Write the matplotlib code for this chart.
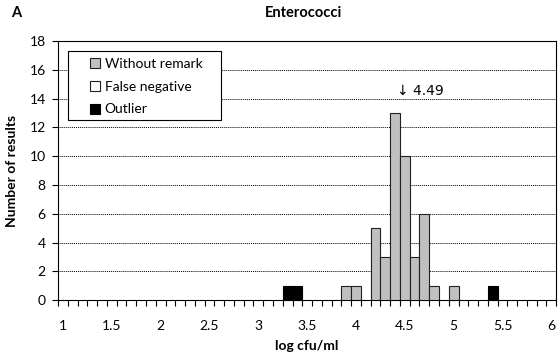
import matplotlib.pyplot as plt
from matplotlib.patches import Patch, Rectangle

plt.rcParams['font.family'] = ['Lato', 'DejaVu Sans']

# results per 0.1 log bin
gray_bins = [3.9, 4.0, 4.2, 4.3, 4.4, 4.5, 4.6, 4.7, 4.8, 5.0]
gray_counts = [1, 1, 5, 3, 13, 10, 3, 6, 1, 1]
outlier_bins = [3.3, 3.4, 5.4]
outlier_counts = [1, 1, 1]
median_value = 4.49

fig = plt.figure(figsize=(5.59, 3.56), dpi=100)
ax = fig.add_axes([0.104, 0.157, 0.891, 0.728])

ax.bar(gray_bins, gray_counts, width=0.1, color='#c0c0c0', edgecolor='#202020', linewidth=0.8, zorder=3)
ax.bar(outlier_bins, outlier_counts, width=0.1, color='black', edgecolor='black', linewidth=0.8, zorder=3)

ax.set_xlim(0.95, 6.05)
ax.set_ylim(0, 18)
ax.set_yticks(range(0, 19, 2))
ax.set_xticks([1, 1.5, 2, 2.5, 3, 3.5, 4, 4.5, 5, 5.5, 6])
ax.set_xticklabels(['1', '1.5', '2', '2.5', '3', '3.5', '4', '4.5', '5', '5.5', '6'])
ax.set_xticks([0.95 + 0.1 * i for i in range(52)], minor=True)
ax.tick_params(axis='x', which='major', length=0, labelsize=10, pad=14)
ax.tick_params(axis='x', which='minor', length=4, width=0.8, direction='out')
ax.tick_params(axis='y', length=4, width=0.8, labelsize=10, pad=5)
ax.yaxis.grid(True, linestyle=(0, (1, 1)), color='black', linewidth=0.7, zorder=0)
for sp in ax.spines.values():
    sp.set_linewidth(0.8)

ax.annotate('\u2193 4.49', xy=(median_value, 14.55), xytext=(-5, 0), textcoords='offset points',
            fontsize=10, ha='left', va='center', family=['DejaVu Sans'])

ax.set_xlabel('log cfu/ml', fontsize=10, fontweight='bold', labelpad=6)
ax.set_ylabel('Number of results', fontsize=10, fontweight='bold', labelpad=8)
fig.text(0.543, 0.963, 'Enterococci', fontsize=10.5, fontweight='bold', ha='center', va='center')
fig.text(0.029, 0.963, 'A', fontsize=10.5, fontweight='bold', ha='center', va='center')

# legend box drawn separately so it can be wider than its entries
box = Rectangle((0.02, 0.695), 0.307, 0.266, transform=ax.transAxes,
                facecolor='white', edgecolor='black', linewidth=0.8, zorder=4)
ax.add_patch(box)
handles = [Patch(facecolor='#c0c0c0', edgecolor='#202020', linewidth=0.8),
           Patch(facecolor='white', edgecolor='#202020', linewidth=0.8),
           Patch(facecolor='black', edgecolor='black', linewidth=0.8)]
leg = ax.legend(handles, ['Without remark', 'False negative', 'Outlier'],
                loc='upper left', bbox_to_anchor=(0.064, 0.935), fontsize=10,
                frameon=False, handlelength=0.75, handleheight=0.75, handletextpad=0.3,
                labelspacing=0.78, borderpad=0, borderaxespad=0)
leg.set_zorder(5)

fig.savefig('out.png', dpi=100)
